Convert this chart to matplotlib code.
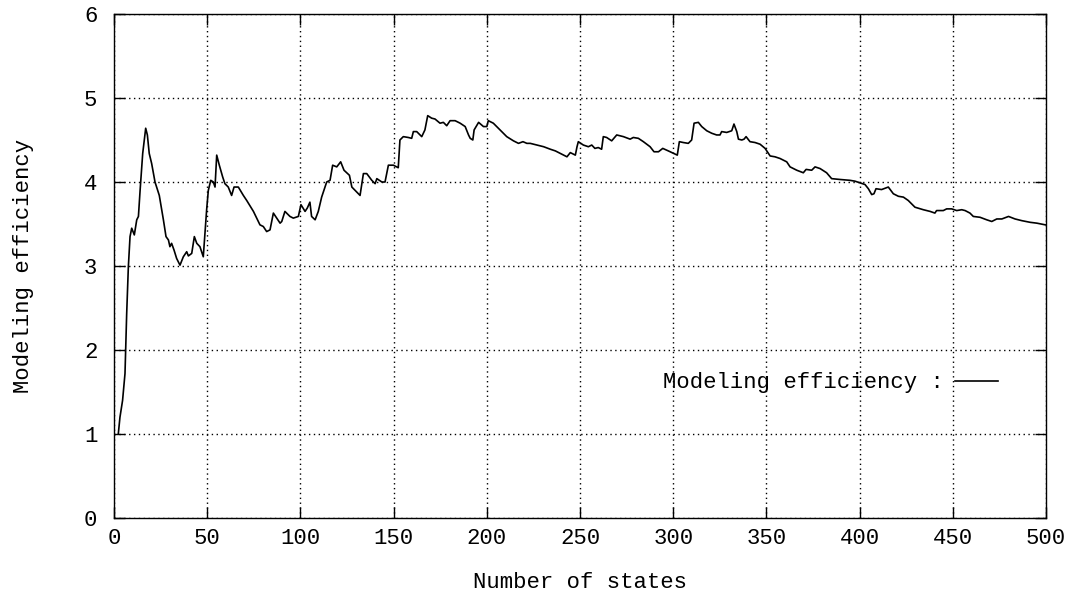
import matplotlib.pyplot as plt

n_states = [
    2.3, 3.2, 4.6, 5.9, 6.8, 7.7, 8.6, 9.5, 10.9, 12.2, 13.1, 14.0, 15.4, 17.0, 17.9, 18.9,
    20.2, 22.0, 24.3, 26.5, 27.9, 29.2, 30.0, 30.9, 32.2, 33.6, 35.4, 37.2, 39.0, 39.9, 41.7,
    43.1, 44.4, 46.1, 47.9, 48.8, 49.7, 50.6, 51.9, 53.3, 54.2, 55.1, 56.5, 58.3, 59.5, 61.3,
    63.1, 64.4, 66.7, 69.4, 71.2, 74.8, 78.3, 80.1, 81.9, 83.7, 85.5, 87.3, 89.1, 90.0, 91.7,
    94.4, 96.2, 98.9, 100.3, 102.5, 103.7, 105.1, 106.0, 107.9, 109.6, 111.4, 114.1, 115.9,
    117.3, 119.5, 121.6, 123.4, 126.3,
    127.6, 130.2, 132.0, 133.8, 135.6, 138.3, 140.1, 141.0, 143.7, 145.4, 147.2, 149.9, 152.5,
    153.4, 155.2, 157.9, 159.7, 160.6, 162.4, 165.1, 166.8, 168.3, 170.4, 172.2, 174.9, 176.7,
    178.5, 180.3, 183.0, 185.7, 188.4, 190.2, 191.1, 192.5, 193.2, 195.6, 198.2, 200.0, 200.8,
    203.5, 207.1, 210.7, 214.3, 217.0, 219.4, 221.5, 223.3, 226.9, 230.5, 234.1, 236.8, 239.5,
    243.0, 244.8, 247.5, 248.4,
    249.1, 251.8, 254.5, 256.3, 258.0, 259.8, 261.6, 262.5, 264.3, 267.0, 269.7, 273.3, 276.9,
    278.6, 281.3, 284.0, 287.6, 289.7, 292.1, 294.4, 297.4, 300.2, 302.2, 303.3, 305.4, 308.1,
    309.9, 311.2, 313.5, 315.3, 318.0, 320.7, 323.3, 325.1, 326.0, 328.7, 331.4, 332.6, 334.1,
    335.0, 336.8, 338.0, 339.1, 341.2, 343.9, 346.6, 349.3, 352.0, 354.6, 357.3, 360.9, 362.7,
    366.3, 369.8, 371.3, 374.3, 376.1,
    378.8, 382.3, 385.0, 389.5, 394.8, 397.5, 400.2, 402.9, 404.7, 406.5, 407.7, 408.8, 411.8,
    415.4, 418.1, 420.8, 423.5, 426.1, 429.7, 434.2, 437.8, 440.4, 441.3, 444.9, 446.7, 449.4,
    452.1, 454.8, 456.6, 459.2, 461.0, 464.6, 468.2, 470.9, 473.6, 476.3, 479.9, 483.4, 487.0,
    491.5, 495.1, 499.6,
]

efficiency = [
    1.00, 1.20, 1.40, 1.72, 2.43, 2.99, 3.35, 3.45, 3.37, 3.55, 3.59, 3.90, 4.34, 4.64, 4.56, 4.34,
    4.22, 4.00, 3.84, 3.55, 3.35, 3.31, 3.23, 3.27, 3.19, 3.09, 3.01, 3.11, 3.17, 3.12, 3.15,
    3.35, 3.27, 3.23, 3.11, 3.39, 3.67, 3.90, 4.02, 4.00, 3.94, 4.32, 4.20, 4.06, 3.98, 3.94,
    3.84, 3.94, 3.94, 3.84, 3.78, 3.65, 3.49, 3.47, 3.41, 3.43, 3.63, 3.57, 3.51, 3.53, 3.65,
    3.59, 3.57, 3.59, 3.73, 3.65, 3.69, 3.76, 3.59, 3.55, 3.65, 3.82, 4.00, 4.02,
    4.20, 4.18, 4.24, 4.14, 4.08,
    3.94, 3.88, 3.84, 4.10, 4.10, 4.02, 3.98, 4.04, 4.00, 4.00, 4.20, 4.20, 4.17,
    4.50, 4.54, 4.53, 4.52, 4.60, 4.60, 4.54, 4.62, 4.79, 4.76, 4.75, 4.70, 4.71,
    4.67, 4.73, 4.73, 4.70, 4.66, 4.56, 4.52, 4.50, 4.62, 4.71, 4.66, 4.66, 4.73,
    4.70, 4.62, 4.54, 4.49, 4.46, 4.48, 4.46, 4.46, 4.44, 4.42, 4.39, 4.37, 4.34,
    4.30, 4.35, 4.32, 4.42,
    4.48, 4.44, 4.42, 4.44, 4.40, 4.41, 4.39, 4.54, 4.53, 4.49, 4.56, 4.54, 4.51,
    4.53, 4.52, 4.48, 4.42, 4.36, 4.36, 4.40, 4.37, 4.34, 4.32, 4.48, 4.47, 4.46,
    4.50, 4.70, 4.71, 4.66, 4.61, 4.58, 4.56, 4.56, 4.60, 4.59, 4.61, 4.69, 4.60,
    4.51, 4.50, 4.51, 4.54, 4.48, 4.47, 4.45, 4.40, 4.31, 4.30, 4.28, 4.24, 4.18,
    4.14, 4.11, 4.15, 4.14, 4.18,
    4.16, 4.11, 4.04, 4.03, 4.02, 4.01, 3.99, 3.97, 3.92, 3.85, 3.86, 3.92, 3.91,
    3.94, 3.86, 3.83, 3.82, 3.78, 3.70, 3.67, 3.65, 3.63, 3.66, 3.66, 3.68, 3.68,
    3.66, 3.67, 3.66, 3.63, 3.59, 3.58, 3.55, 3.53, 3.56, 3.56, 3.59, 3.56, 3.54,
    3.52, 3.51, 3.49,
]

x_ticks = [0, 50, 100, 150, 200, 250, 300, 350, 400, 450, 500]
y_ticks = [0, 1, 2, 3, 4, 5, 6]

plt.rcParams['font.family'] = ['Liberation Mono', 'DejaVu Sans Mono']
fs = 16

fig = plt.figure(figsize=(10.75, 5.99), dpi=100)
ax = fig.add_axes([114 / 1075, 1 - 518 / 599, 932 / 1075, 504 / 599])

ax.plot(n_states, efficiency, color='black', lw=1.2, label='Modeling efficiency :')

ax.set_xlim(0, 500)
ax.set_ylim(0, 6)
ax.set_xticks(x_ticks)
ax.set_yticks(y_ticks)
ax.grid(True, color='black', linestyle=(0, (1, 2.5)), lw=1.0)
ax.tick_params(direction='in', length=8, width=1, top=True, right=True,
               labelsize=fs, colors='black')
ax.tick_params(axis='x', pad=7)
ax.tick_params(axis='y', pad=12)
for s in ax.spines.values():
    s.set_linewidth(1.0)
    s.set_color('black')

ax.set_xlabel('Number of states', fontsize=fs, labelpad=17)
ax.set_ylabel('Modeling efficiency', fontsize=fs, labelpad=36)

ax.legend(loc='center right', bbox_to_anchor=(0.948, 0.268), frameon=False,
          markerfirst=False, fontsize=fs, handlelength=1.9, handletextpad=0.5,
          borderpad=0, borderaxespad=0)

fig.savefig('out.png', dpi=100)
